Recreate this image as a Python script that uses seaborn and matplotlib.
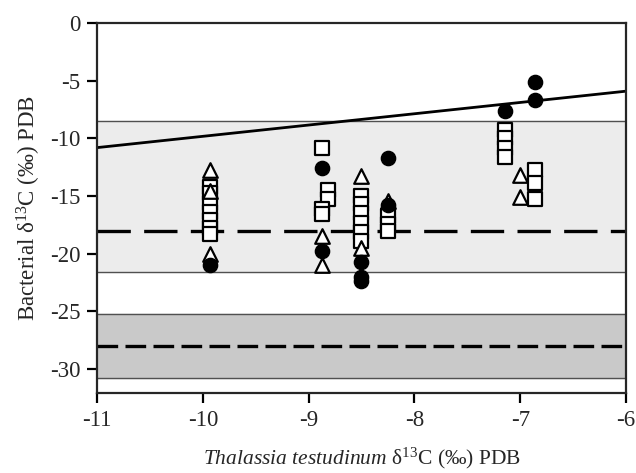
import numpy as np
import pandas as pd
import matplotlib
matplotlib.use('Agg')
import matplotlib.pyplot as plt
import seaborn as sns

# bacterial d13C vs seagrass d13C, three sample types
circle_x = [-9.93, -8.87, -8.87, -8.51, -8.51, -8.51, -8.25, -8.25, -7.14, -6.86, -6.86]
circle_y = [-21.0, -12.6, -19.8, -20.7, -22.0, -22.4, -11.7, -15.8, -7.6, -5.1, -6.7]

square_x = [-9.93, -9.93, -9.93, -9.93, -9.93, -9.93, -9.93,
            -8.87, -8.82, -8.82, -8.87, -8.87,
            -8.51, -8.51, -8.51, -8.51, -8.51, -8.51,
            -8.25, -8.25, -8.25,
            -7.14, -7.14, -7.14, -7.14,
            -6.86, -6.86, -6.86]
square_y = [-14.2, -14.7, -15.6, -16.4, -17.1, -17.8, -18.3,
            -10.8, -14.5, -15.3, -16.1, -16.6,
            -15.0, -15.7, -16.5, -17.3, -18.1, -18.9,
            -16.7, -17.4, -18.0,
            -9.3, -10.0, -10.8, -11.6,
            -12.7, -13.9, -15.3]

triangle_x = [-9.93, -9.93, -9.93, -8.87, -8.87, -8.51, -8.51, -8.25, -7.0, -7.0]
triangle_y = [-12.7, -14.6, -20.0, -18.5, -21.0, -13.3, -19.5, -15.4, -13.2, -15.1]

# regression line and reference bands
line_x = [-11, -6]
line_y = [-10.8, -5.9]
upper_band = (-21.6, -8.5)
upper_mean = -18.0
lower_band = (-30.8, -25.2)
lower_mean = -28.0

sns.set_style('ticks')
plt.rcParams['font.family'] = ['Liberation Serif', 'DejaVu Serif']
plt.rcParams['mathtext.fontset'] = 'custom'
plt.rcParams['mathtext.rm'] = 'Liberation Serif'
plt.rcParams['mathtext.it'] = 'Liberation Serif:italic'

fig = plt.figure(figsize=(6.36, 4.73), dpi=100)
ax = fig.add_axes([0.1525, 0.169, 0.832, 0.782])

ax.axhspan(*upper_band, color='#ececec', zorder=0)
ax.axhspan(*lower_band, color='#c9c9c9', zorder=0)
for yv in list(upper_band) + list(lower_band):
    ax.axhline(yv, color='#505050', lw=1.0, zorder=1)
ax.axhline(upper_mean, color='black', lw=2.4, dashes=(10, 4), zorder=1)
ax.axhline(lower_mean, color='black', lw=2.4, dashes=(6.2, 2.2), zorder=1)

sns.lineplot(x=line_x, y=line_y, ax=ax, color='black', lw=2.0, zorder=2)

sq = pd.DataFrame({'x': square_x, 'y': square_y})
tr = pd.DataFrame({'x': triangle_x, 'y': triangle_y})
ci = pd.DataFrame({'x': circle_x, 'y': circle_y})
sns.scatterplot(data=sq, x='x', y='y', marker='s', s=95, color='white',
                edgecolor='black', linewidth=1.6, ax=ax, zorder=3)
sns.scatterplot(data=tr, x='x', y='y', marker='^', s=110, color='white',
                edgecolor='black', linewidth=1.6, ax=ax, zorder=3)
sns.scatterplot(data=ci, x='x', y='y', marker='o', s=105, color='black',
                edgecolor='black', linewidth=1.0, ax=ax, zorder=4)

ax.set_xlim(-11, -6)
ax.set_ylim(-32.1, 0)
ax.set_xticks([-11, -10, -9, -8, -7, -6])
ax.set_yticks([0, -5, -10, -15, -20, -25, -30])
ax.set_xticklabels(['-11', '-10', '-9', '-8', '-7', '-6'])
ax.set_yticklabels(['0', '-5', '-10', '-15', '-20', '-25', '-30'])
for sp in ax.spines.values():
    sp.set_linewidth(1.6)
    sp.set_visible(True)
ax.tick_params(direction='out', length=7, width=1.6, labelsize=16.5, color='black', pad=5)

ax.set_xlabel(r'$\it{Thalassia\ testudinum}$ δ$^{13}$C (‰) PDB', fontsize=15.5, labelpad=11)
ax.set_ylabel(r'Bacterial δ$^{13}$C (‰) PDB', fontsize=16.5, labelpad=5)

fig.savefig('out.png', dpi=100)
